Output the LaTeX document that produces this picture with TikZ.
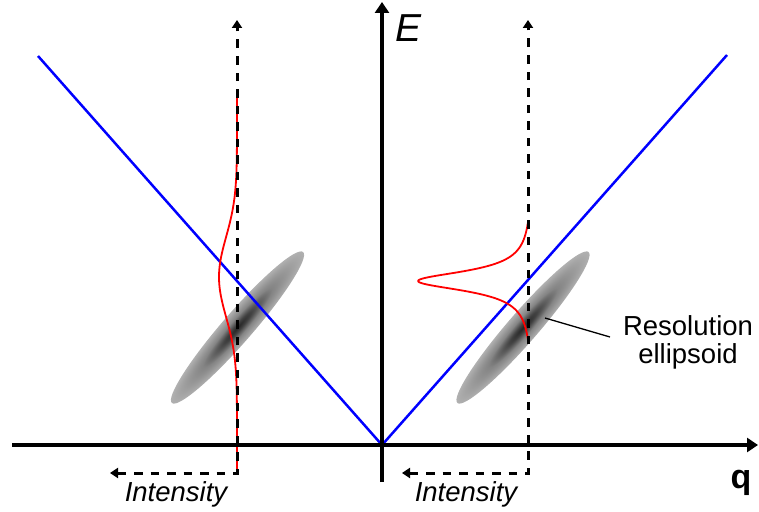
\documentclass[tikz,border=0pt]{standalone}
\usepackage{fontspec}
\setmainfont{Liberation Sans}
\usetikzlibrary{arrows.meta}
\pgfdeclareradialshading{ellshade}{\pgfpoint{0bp}{0bp}}{color(0bp)=(black!85); color(5bp)=(black!74); color(13bp)=(black!48); color(25bp)=(black!31); color(50bp)=(black!31)}
\begin{document}
\begin{tikzpicture}[x=1pt,y=-1pt,
  axisline/.style={line width=3.3pt, -{Triangle[length=11pt,width=14pt]}},
  guide/.style={line width=3pt, dash pattern=on 8.5pt off 8pt, {Triangle[length=8pt,width=10pt]}-{Triangle[length=8pt,width=10pt]}},
  dispersion/.style={blue, line width=2.5pt},
  profile/.style={red, line width=1.8pt},
  pointer/.style={line width=1.3pt},
  lbl/.style={inner sep=0pt, font=\fontsize{27.5}{28}\selectfont}
]
\useasboundingbox (0,0) rectangle (759,511);
% key points
\coordinate (O) at (382,445);
\coordinate (Etop) at (382,2);
\coordinate (Ebot) at (382,482);
\coordinate (qleft) at (12,445);
\coordinate (qright) at (758,445);
\coordinate (BL) at (38,56);
\coordinate (BR) at (727,55);
\coordinate (LT) at (237,20);
\coordinate (LC) at (237,473);
\coordinate (LA) at (110,473);
\coordinate (RT) at (528,20);
\coordinate (RC) at (528,473);
\coordinate (RA) at (402,473);
\coordinate (P1) at (545,318);
\coordinate (P2) at (610,337);
% resolution ellipsoids
\begin{scope}[transform canvas={shift={(237.5,327.5)}, rotate=49}]
  \shade[shading=ellshade] (0,0) circle[x radius=100pt, y radius=15pt];
\end{scope}
\begin{scope}[transform canvas={shift={(523,327.5)}, rotate=49}]
  \shade[shading=ellshade] (0,0) circle[x radius=100pt, y radius=15pt];
\end{scope}
% dispersion
\draw[dispersion] (BL) -- (O) -- (BR);
% intensity profiles
\draw[profile] plot[domain=92:470, samples=150, smooth]
  ({237-18*exp(-0.5*((\x-277)/40)*((\x-277)/40))}, {\x});
\draw[profile] plot[domain=222:340, samples=150, smooth]
  ({528-110*(1/(1+((\x-281)/12)*((\x-281)/12))-0.0397)/0.9603}, {\x});
% guides
\draw[guide] (LA) -- (LC) -- (LT);
\draw[guide] (RA) -- (RC) -- (RT);
% axes
\draw[axisline] (Ebot) -- (Etop);
\draw[axisline] (qleft) -- (qright);
% pointer
\draw[pointer] (P1) -- (P2);
% labels
\node[inner sep=0pt, font=\fontsize{39}{40}\selectfont\itshape] (Elab) at (408,28) {E};
\node[inner sep=0pt, font=\fontsize{34}{36}\selectfont\bfseries] (qlab) at (741,482.5) {q};
\node[lbl, font=\fontsize{27.5}{28}\selectfont\itshape] (I1) at (176,494) {Intensity};
\node[lbl, font=\fontsize{27.5}{28}\selectfont\itshape] (I2) at (466,494) {Intensity};
\node[lbl, align=center] (res) at (688,342) {Resolution\\ellipsoid};
\end{tikzpicture}
\end{document}
